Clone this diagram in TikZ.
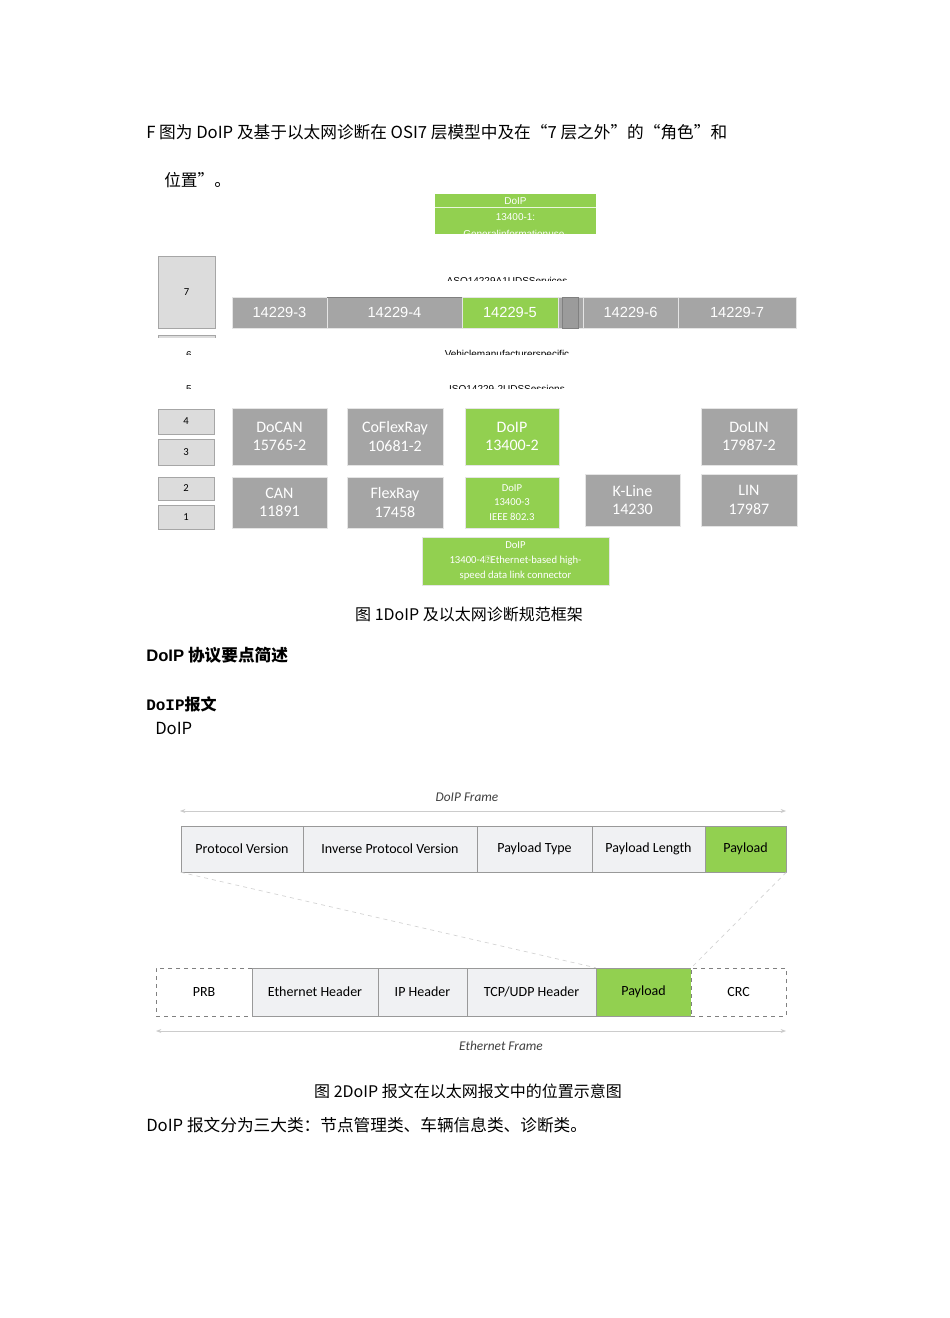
\documentclass[tikz,border=0pt]{standalone}
\usepackage{fontspec}
\setmainfont{Liberation Sans}
\newfontfamily\cjk{Noto Sans CJK SC}
\newfontfamily\carl{Carlito}
\usetikzlibrary{arrows.meta}
\definecolor{dgreen}{HTML}{92D050}
\definecolor{dgray}{HTML}{A5A5A5}
\definecolor{lgray}{HTML}{DCDCDC}
\definecolor{fgray}{HTML}{F0F1F3}
\tikzset{
 gbox/.style={fill=dgray,draw=white!80!gray,line width=0.6pt,text=white,font=\carl\fontsize{12}{14}\selectfont,align=center,inner sep=0pt},
 grn/.style={gbox,fill=dgreen},
 layer/.style={fill=lgray,draw=gray!70,font=\carl\fontsize{8}{9}\selectfont,inner sep=0pt},
 fld/.style={fill=fgray,draw=gray!80,font=\carl\fontsize{10.5}{12}\selectfont,inner sep=0pt,text=black!80},
 dfld/.style={fld,fill=white,draw=gray,dashed},
 body/.style={font=\cjk\fontsize{12.5}{15}\selectfont,anchor=west,inner sep=0pt},
 captext/.style={font=\cjk\fontsize{12}{14}\selectfont,inner sep=0pt},
 it/.style={font=\carl\itshape\fontsize{10}{12}\selectfont,text=black!75,inner sep=0pt},
 span/.style={draw=gray!40,{Stealth[length=4pt]}-{Stealth[length=4pt]},line width=0.5pt},
 zoomln/.style={draw=gray!35,dashed,line width=0.5pt}
}
\newcommand{\bx}[6]{\node[#1,minimum width=#4*0.75pt-0.75pt*#2,minimum height=#5*0.75pt-0.75pt*#3] (#6) at ({(#2+#4)/2},{(#3+#5)/2}) {};}
\begin{document}
\begin{tikzpicture}[x=0.75pt,y=-0.75pt]
\useasboundingbox[fill=white] (0,0) rectangle (950,1318);
\node[body] (t1) at (146,132) {F 图为 DoIP 及基于以太网诊断在 OSI7 层模型中及在“7 层之外”的“角色”和};
\node[body] (t2) at (164,180) {位置”。};
% 13400-1 box
\node[fill=dgreen,minimum width=161*0.75pt,minimum height=40*0.75pt,inner sep=0pt] (g1) at (515.5,214) {};
\draw[white!80!dgreen] (435,207) -- (596,207);
\begin{scope}
\clip (435,194) rectangle (596,234);
\node[font=\fontsize{7.5}{9}\selectfont,text=white] (g1a) at (515.5,201) {DoIP};
\node[font=\fontsize{7.5}{9}\selectfont,text=white] (g1b) at (515.5,217) {13400-1:};
\node[font=\fontsize{7.5}{9}\selectfont,text=white] (g1c) at (515.5,234) {Generalinformationuse-};
\end{scope}
% layer 7
\node[layer,minimum width=57*0.75pt,minimum height=72*0.75pt] (l7) at (186.5,292) {7};
\begin{scope}
\clip (150,333) rectangle (220,337);
\node[layer,minimum width=57*0.75pt,minimum height=30*0.75pt] (l6) at (186.5,350) {};
\end{scope}
\begin{scope}
\clip (100,260) rectangle (800,280);
\node[font=\fontsize{7.5}{9}\selectfont] (s1) at (507,281) {ASO14229A1UDSServices};
\end{scope}
\begin{scope}
\clip (100,340) rectangle (800,354);
\node[font=\fontsize{7.5}{9}\selectfont] (s2) at (507,355) {Vehiclemanufacturerspecific};
\node[font=\fontsize{7.5}{9}\selectfont] (n6) at (189,355) {6};
\end{scope}
\begin{scope}
\clip (100,375) rectangle (800,388);
\node[font=\fontsize{7.5}{9}\selectfont] (s3) at (507,389) {ISO14229-2UDSSessions};
\node[font=\fontsize{7.5}{9}\selectfont] (n5) at (189,389) {5};
\end{scope}
% 14229 bar
\bx{gbox}{232}{297}{327}{328}{a3}\node[white,font=\fontsize{11}{13}\selectfont] at (a3) {14229-3};
\bx{gbox}{327}{297}{462}{328}{a4}\node[white,font=\fontsize{11}{13}\selectfont] at (a4) {14229-4};
\draw[gray,line width=1.2pt] (327,297.5) -- (462,297.5);
\bx{grn}{462}{297}{558}{328}{a5}\node[white,font=\fontsize{11}{13}\selectfont] at (a5) {14229-5};
\bx{gbox}{558}{297}{583}{328}{ax}
\node[fill=gray!70!lgray,minimum width=16*0.75pt,minimum height=31*0.75pt,inner sep=0pt,draw=gray] at (570.5,312.5) {};
\bx{gbox}{583}{297}{678}{328}{a6}\node[white,font=\fontsize{11}{13}\selectfont] at (a6) {14229-6};
\bx{gbox}{678}{297}{796}{328}{a7}\node[white,font=\fontsize{11}{13}\selectfont] at (a7) {14229-7};
% layers 4-1
\bx{layer}{158}{409}{214}{434}{l4}\node[font=\carl\fontsize{8}{9}\selectfont] at (l4) {4};
\bx{layer}{158}{439}{214}{465}{l3}\node[font=\carl\fontsize{8}{9}\selectfont] at (l3) {3};
\bx{layer}{158}{477}{214}{500}{l2}\node[font=\carl\fontsize{8}{9}\selectfont] at (l2) {2};
\bx{layer}{158}{505}{214}{529}{l1}\node[font=\carl\fontsize{8}{9}\selectfont] at (l1) {1};
% protocol boxes
\node[gbox,minimum width=95*0.75pt,minimum height=57*0.75pt] (docan) at (279.5,436.5) {DoCAN\\15765-2};
\node[gbox,minimum width=96*0.75pt,minimum height=57*0.75pt] (cofr) at (395,436.5) {CoFlexRay\\10681-2};
\node[grn,minimum width=94*0.75pt,minimum height=57*0.75pt] (doip2) at (512,436.5) {DoIP\\13400-2};
\node[gbox,minimum width=96*0.75pt,minimum height=57*0.75pt] (dolin) at (749,436.5) {DoLIN\\17987-2};
\node[gbox,minimum width=95*0.75pt,minimum height=51*0.75pt] (can) at (279.5,502.5) {CAN\\11891};
\node[gbox,minimum width=96*0.75pt,minimum height=51*0.75pt] (fr) at (395,502.5) {FlexRay\\17458};
\node[grn,minimum width=94*0.75pt,minimum height=51*0.75pt,font=\carl\fontsize{8}{11}\selectfont] (doip3) at (512,502.5) {DoIP\\13400-3\\IEEE 802.3};
\node[gbox,minimum width=95*0.75pt,minimum height=52*0.75pt] (kl) at (632.5,500) {K-Line\\14230};
\node[gbox,minimum width=96*0.75pt,minimum height=52*0.75pt] (lin) at (749,500) {LIN\\17987};
\node[grn,minimum width=187*0.75pt,minimum height=48*0.75pt,font=\carl\fontsize{8}{11.5}\selectfont] (doip4) at (515.5,561) {DoIP\\13400-4：Ethernet-based high-\\speed data link connector};
\node[captext] (c1) at (469,614) {图 1DoIP 及以太网诊断规范框架};
\node[body,font=\cjk\bfseries\fontsize{12.5}{15}\selectfont] (h1) at (146,655) {\fontspec{Liberation Sans}\bfseries DoIP\cjk\bfseries\ 协议要点简述};
\node[body,font=\cjk\bfseries\fontsize{12}{15}\selectfont] (h2) at (146,704) {\fontspec{Liberation Mono}\bfseries DoIP\cjk\bfseries 报文};
\node[body] (h3) at (155,728) {DoIP};
% DoIP frame
\node[it] (df) at (467,797) {DoIP Frame};
\coordinate (f1l) at (180,811); \coordinate (f1r) at (786,811);
\draw[span] (f1l) -- (f1r);
\bx{fld}{181}{826}{303}{872}{pv}\node[font=\carl\fontsize{10.5}{12}\selectfont] at (pv) {Protocol Version};
\bx{fld}{303}{826}{477}{872}{ipv}\node[font=\carl\fontsize{10.5}{12}\selectfont] at (ipv) {Inverse Protocol Version};
\bx{fld}{477}{826}{592}{872}{pt}\node[font=\carl\fontsize{10.5}{12}\selectfont] at (pt) {Payload Type};
\bx{fld}{592}{826}{705}{872}{pl}\node[font=\carl\fontsize{10.5}{12}\selectfont] at (pl) {Payload Length};
\bx{fld,fill=dgreen}{705}{826}{786}{872}{pay}\node[font=\carl\fontsize{10.5}{12}\selectfont] at (pay) {Payload};
% Ethernet frame
\bx{dfld}{156}{968}{252}{1016}{prb}\node[font=\carl\fontsize{10.5}{12}\selectfont] at (prb) {PRB};
\bx{fld}{252}{968}{378}{1016}{eh}\node[font=\carl\fontsize{10.5}{12}\selectfont] at (eh) {Ethernet Header};
\bx{fld}{378}{968}{467}{1016}{iph}\node[font=\carl\fontsize{10.5}{12}\selectfont] at (iph) {IP Header};
\bx{fld}{467}{968}{596}{1016}{tcp}\node[font=\carl\fontsize{10.5}{12}\selectfont] at (tcp) {TCP/UDP Header};
\bx{fld,fill=dgreen}{596}{968}{691}{1016}{epay}\node[font=\carl\fontsize{10.5}{12}\selectfont] at (epay) {Payload};
\bx{dfld}{691}{968}{786}{1016}{crc}\node[font=\carl\fontsize{10.5}{12}\selectfont] at (crc) {CRC};
\draw[zoomln] (pv.south west) -- (epay.north west);
\draw[zoomln] (pay.south east) -- (epay.north east);
\coordinate (f2l) at (156,1031); \coordinate (f2r) at (786,1031);
\draw[span] (f2l) -- (f2r);
\node[it] (ef) at (501,1046) {Ethernet Frame};
\begin{scope}
\clip (200,1078) rectangle (700,1097);
\node[captext] (c2) at (468,1091) {图 2DoIP 报文在以太网报文中的位置示意图};
\end{scope}
\node[body] (t3) at (146,1125) {DoIP 报文分为三大类：节点管理类、车辆信息类、诊断类。};
\end{tikzpicture}
\end{document}
